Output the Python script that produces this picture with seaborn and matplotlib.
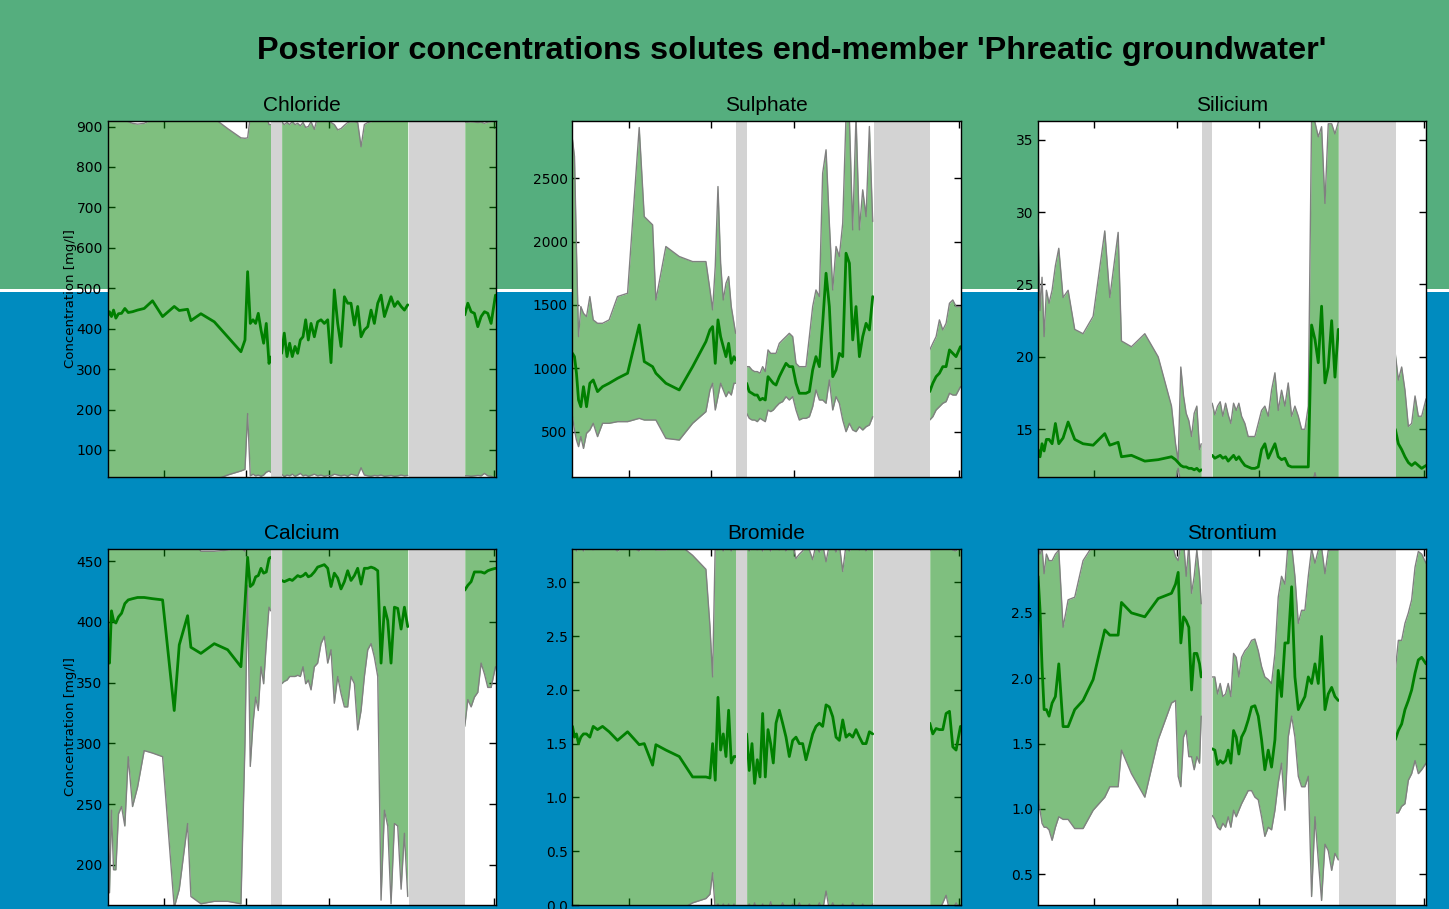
import matplotlib
matplotlib.use("Agg")
import matplotlib.pyplot as plt
from matplotlib.patches import Rectangle
from matplotlib.ticker import MultipleLocator
import pandas as pd
import seaborn as sns

## sampling times (decimal years), three measuring periods
t_a = [2009.320, 2009.344, 2009.368, 2009.393, 2009.421, 2009.453, 2009.490, 2009.530,
       2009.571, 2009.623, 2009.684, 2009.764, 2009.865, 2009.987, 2010.128, 2010.189,
       2010.290, 2010.330, 2010.451, 2010.613, 2010.775, 2010.936, 2010.985, 2011.017,
       2011.049, 2011.082, 2011.114, 2011.146, 2011.179, 2011.211, 2011.243, 2011.276,
       2011.296]
t_b = [2011.429, 2011.461, 2011.494, 2011.526, 2011.558, 2011.591, 2011.623, 2011.655,
       2011.688, 2011.720, 2011.752, 2011.785, 2011.825, 2011.865, 2011.906, 2011.946,
       2011.987, 2012.027, 2012.067, 2012.108, 2012.148, 2012.189, 2012.229, 2012.269,
       2012.310, 2012.350, 2012.391, 2012.431, 2012.472, 2012.512, 2012.552, 2012.593,
       2012.633, 2012.674, 2012.714, 2012.754, 2012.795, 2012.835, 2012.876, 2012.916,
       2012.956]
t_c = [2013.647, 2013.684, 2013.724, 2013.764, 2013.805, 2013.845, 2013.886, 2013.926,
       2013.966, 2014.019]

## periods without data
gaps = [(2011.30, 2011.43), (2012.97, 2013.65)]

# Chloride
cl_mean = [430, 442, 430, 446, 426, 437, 438, 450, 440, 442, 446, 450, 469, 430, 455, 445,
           448, 420, 437, 417, 380, 343, 372, 541, 413, 422, 413, 438, 397, 364, 413, 314, 330,
           339, 389, 331, 364, 331, 356, 339, 372, 380, 422, 372, 413, 380, 417, 422, 413,
           422, 316, 496, 413, 356, 479, 463, 463, 409, 455, 380, 397, 405, 446, 413, 463,
           483, 430, 455, 479, 455, 467, 455, 446, 459,
           434, 463, 442, 438, 405, 430, 442, 438, 413, 483]
cl_lo = [25, 25, 25, 25, 25, 25, 25, 25, 25, 25, 25, 25, 25, 25, 25, 25,
         25, 25, 25, 25, 38, 48, 52, 190, 36, 40, 36, 38, 35, 38, 45, 48, 45,
         40, 34, 38, 36, 40, 35, 38, 42, 36, 38, 35, 37, 40, 36, 38, 35,
         37, 36, 40, 38, 36, 38, 35, 40, 38, 36, 56, 38, 36, 35, 37, 36,
         38, 35, 36, 37, 35, 36, 38, 36, 37,
         36, 36, 35, 36, 37, 36, 42, 36, 35, 30]
cl_hi = [925, 925, 925, 925, 925, 925, 925, 925, 912, 908, 906, 908, 918, 920, 925, 925,
         925, 925, 925, 920, 895, 872, 871, 872, 925, 925, 925, 925, 925, 925, 925, 905, 905,
         912, 905, 910, 905, 912, 905, 908, 902, 910, 898, 900, 912, 893, 925, 925, 925,
         925, 910, 905, 892, 895, 903, 910, 912, 912, 910, 850, 905, 910, 912, 925, 925,
         925, 925, 925, 925, 925, 925, 925, 925, 925,
         911, 911, 912, 911, 910, 911, 908, 911, 912, 925]

# Sulphate
so_mean = [1118, 1092, 961, 750, 697, 855, 697, 882, 908, 816, 855, 882, 921, 961, 1342, 1053,
           1013, 961, 882, 829, 1013, 1211, 1303, 1329, 1039, 1382, 1250, 1171, 1092, 1197, 1039, 1092, 1066,
           882, 816, 803, 789, 789, 750, 763, 750, 934, 908, 882, 868, 934, 987, 1039, 1013,
           1013, 882, 803, 803, 803, 816, 987, 1092, 1013, 1355, 1750, 1487, 934, 987, 1118, 1092,
           1908, 1829, 1224, 1487, 1092, 1250, 1355, 1303, 1566,
           816, 882, 934, 961, 1013, 1013, 1145, 1118, 1092, 1171]
so_lo = [618, 513, 434, 382, 461, 368, 487, 513, 566, 461, 566, 566, 579, 579, 605, 592,
         592, 592, 447, 434, 566, 658, 829, 882, 671, 776, 882, 829, 776, 816, 789, 882, 882,
         645, 605, 592, 592, 579, 605, 592, 579, 671, 658, 671, 697, 724, 737, 776, 750,
         776, 671, 592, 605, 605, 618, 697, 829, 750, 750, 724, 908, 671, 776, 724, 592,
         500, 566, 513, 500, 539, 513, 539, 553, 618,
         592, 618, 671, 697, 724, 737, 803, 789, 789, 855]
so_hi = [2803, 2671, 1934, 1250, 1487, 1434, 1408, 1566, 1382, 1355, 1355, 1382, 1566, 1592, 2900, 2197,
         2132, 1539, 1961, 1882, 1842, 1842, 1618, 1461, 1803, 2434, 1829, 1539, 1671, 1724, 1487, 1355, 1276,
         1013, 1013, 987, 974, 974, 961, 1013, 974, 1145, 1118, 1118, 1118, 1197, 1224, 1250, 1276,
         1250, 1039, 1013, 1013, 1013, 1250, 1487, 1618, 1566, 2539, 2724, 2145, 1618, 1961, 1882, 2145,
         2990, 2960, 2092, 2990, 2092, 2408, 2197, 2908, 2158,
         1145, 1197, 1250, 1382, 1303, 1355, 1513, 1539, 1487, 1487]

# Silicium
si_mean = [13.6, 13.1, 14.0, 13.5, 14.3, 14.3, 14.0, 15.4, 14.0, 14.4, 15.5, 14.3, 14.0, 13.9, 14.7, 13.9,
           14.1, 13.1, 13.2, 12.8, 12.9, 13.1, 12.9, 12.7, 12.5, 12.4, 12.4, 12.3, 12.3, 12.2, 12.3, 12.1, 12.2,
           13.2, 13.0, 13.1, 13.2, 13.0, 13.1, 12.8, 13.0, 13.2, 12.9, 13.1, 12.8, 12.5, 12.4, 12.3, 12.3,
           12.4, 13.6, 14.0, 13.0, 13.5, 14.0, 13.1, 12.9, 13.0, 12.5, 12.4, 12.4, 12.4, 12.4, 12.4, 12.4,
           22.2, 21.2, 19.6, 23.5, 18.2, 19.3, 22.5, 18.6, 21.9,
           15.0, 14.0, 13.6, 13.1, 12.7, 12.5, 12.7, 12.5, 12.3, 12.5]
si_lo = [11.0, 11.0, 11.0, 11.0, 11.0, 11.0, 11.0, 11.0, 11.0, 11.0, 11.0, 11.0, 11.0, 11.0, 11.0, 11.0,
         11.0, 11.0, 11.0, 11.0, 11.0, 11.0, 11.5, 12.3, 11.3, 11.0, 11.0, 11.0, 11.0, 11.0, 11.0, 11.0, 11.0,
         11.0, 11.0, 11.0, 11.0, 11.0, 11.0, 11.0, 11.0, 11.0, 11.0, 11.0, 11.0, 11.0, 11.0, 11.0, 11.0,
         11.0, 11.0, 11.0, 11.0, 11.0, 11.0, 11.0, 11.0, 11.0, 11.0, 11.0, 11.0, 11.0, 11.0, 11.0, 11.0,
         11.0, 12.0, 11.0, 11.0, 11.0, 11.0, 11.0, 11.0, 11.0,
         11.0, 11.0, 11.0, 11.0, 11.0, 11.0, 11.0, 11.0, 11.0, 11.0]
si_hi = [29.0, 23.2, 25.5, 21.4, 24.6, 23.7, 24.6, 26.3, 27.5, 24.1, 24.6, 21.9, 21.6, 22.8, 28.7, 24.1,
         28.6, 21.1, 20.7, 21.6, 20.0, 16.6, 14.0, 12.8, 19.3, 17.3, 16.1, 15.6, 14.5, 16.1, 16.6, 13.6, 14.0,
         16.8, 16.0, 16.6, 16.9, 15.9, 16.8, 16.0, 15.4, 16.8, 16.3, 16.8, 15.9, 15.4, 14.5, 14.5, 14.5,
         15.4, 16.3, 16.6, 15.9, 17.7, 18.9, 16.3, 17.7, 16.6, 18.2, 15.9, 16.6, 15.9, 15.0, 15.0, 16.6,
         36.5, 36.2, 35.2, 35.9, 30.6, 36.1, 36.1, 35.4, 36.2,
         20.2, 18.4, 19.3, 17.7, 15.2, 15.4, 17.3, 15.9, 15.9, 17.1]

# Calcium
ca_mean = [379, 366, 409, 401, 399, 404, 407, 415, 418, 419, 420, 420, 419, 418, 327, 381,
           405, 379, 374, 382, 377, 363, 415, 453, 429, 431, 437, 438, 444, 440, 441, 452, 453,
           434, 433, 434, 435, 434, 436, 438, 437, 438, 440, 437, 438, 441, 445, 446, 447,
           444, 429, 440, 436, 427, 433, 442, 434, 438, 444, 431, 444, 444, 445, 444, 442,
           366, 412, 401, 366, 412, 411, 394, 412, 396,
           426, 430, 433, 441, 441, 441, 440, 442, 443, 444]
ca_lo = [292, 177, 245, 196, 196, 242, 248, 232, 289, 248, 264, 294, 292, 289, 165, 180,
         234, 174, 168, 170, 170, 168, 300, 430, 281, 316, 338, 327, 363, 349, 382, 412, 409,
         349, 351, 352, 355, 355, 355, 356, 355, 363, 349, 352, 344, 363, 366, 382, 388,
         366, 377, 333, 355, 341, 330, 330, 355, 349, 311, 327, 355, 377, 382, 371, 355,
         171, 245, 232, 168, 234, 232, 180, 226, 174,
         314, 336, 330, 338, 342, 366, 357, 346, 346, 363]
ca_hi = [470, 470, 470, 470, 470, 470, 470, 470, 470, 470, 470, 470, 470, 470, 470, 470,
         470, 470, 458, 458, 459, 461, 458, 470, 470, 470, 470, 470, 470, 470, 470, 470, 470,
         470, 470, 470, 470, 470, 470, 470, 470, 470, 470, 470, 470, 470, 470, 470, 470,
         470, 470, 470, 470, 470, 470, 470, 470, 470, 470, 470, 470, 470, 470, 470, 470,
         470, 470, 470, 470, 470, 470, 470, 470, 470,
         470, 470, 470, 470, 470, 470, 470, 470, 470, 470]

# Bromide
br_mean = [1.66, 1.56, 1.59, 1.50, 1.56, 1.59, 1.59, 1.56, 1.66, 1.63, 1.66, 1.61, 1.53, 1.61, 1.49, 1.50,
           1.30, 1.49, 1.44, 1.38, 1.19, 1.19, 1.18, 1.50, 1.16, 1.93, 1.44, 1.59, 1.38, 1.81, 1.32, 1.38, 1.38,
           1.59, 1.25, 1.50, 1.13, 1.35, 1.19, 1.78, 1.19, 1.63, 1.50, 1.32, 1.69, 1.81, 1.69, 1.56, 1.38,
           1.53, 1.56, 1.50, 1.50, 1.35, 1.47, 1.59, 1.66, 1.69, 1.66, 1.86, 1.84, 1.75, 1.56, 1.53, 1.72,
           1.56, 1.59, 1.56, 1.63, 1.56, 1.50, 1.50, 1.61, 1.59,
           1.69, 1.59, 1.64, 1.63, 1.63, 1.78, 1.80, 1.47, 1.44, 1.66]
br_lo = [-0.05, -0.05, -0.05, -0.05, -0.05, -0.05, -0.05, -0.05, -0.05, -0.05, -0.05, -0.05, -0.05, -0.05, -0.05, -0.05,
         -0.05, -0.05, -0.05, -0.05, 0.02, 0.06, 0.10, 0.30, -0.05, 0.01, -0.05, 0.01, -0.05, 0.01, -0.05, 0.01, -0.05,
         -0.05, 0.01, -0.05, 0.02, -0.05, -0.05, 0.01, -0.05, -0.05, 0.03, -0.05, -0.05, -0.05, 0.02, -0.05, -0.05,
         0.01, -0.05, 0.02, -0.05, -0.05, 0.01, -0.05, -0.05, 0.02, -0.05, 0.13, -0.05, 0.02, -0.05, -0.05, 0.01,
         -0.05, -0.05, 0.02, -0.05, -0.05, 0.01, -0.05, -0.05, 0.01,
         -0.05, -0.05, -0.05, -0.05, 0.02, 0.09, -0.05, -0.05, 0.02, -0.05]
br_hi = [3.35, 3.35, 3.29, 3.35, 3.35, 3.29, 3.35, 3.35, 3.30, 3.35, 3.35, 3.35, 3.29, 3.35, 3.29, 3.35,
         3.35, 3.30, 3.30, 3.35, 3.25, 3.12, 2.59, 2.12, 3.35, 3.30, 3.35, 3.29, 3.35, 3.35, 3.29, 3.35, 3.35,
         3.35, 3.29, 3.35, 3.35, 3.30, 3.35, 3.29, 3.35, 3.35, 3.29, 3.35, 3.35, 3.30, 3.35, 3.29, 3.35,
         3.35, 3.22, 3.26, 3.29, 3.35, 3.30, 3.21, 3.35, 3.28, 3.35, 3.19, 3.35, 3.35, 3.28, 3.35, 3.10,
         3.35, 3.29, 3.35, 3.35, 3.30, 3.35, 3.29, 3.35, 3.35,
         3.29, 3.35, 3.35, 3.35, 3.35, 3.35, 3.35, 3.30, 3.29, 3.35]

# Strontium
sr_mean = [2.78, 2.52, 2.09, 1.76, 1.76, 1.71, 1.81, 1.86, 2.11, 1.63, 1.63, 1.76, 1.83, 1.99, 2.37, 2.33,
           2.33, 2.58, 2.50, 2.47, 2.61, 2.65, 2.72, 2.81, 2.27, 2.47, 2.44, 2.39, 1.91, 2.19, 2.19, 2.11, 2.01,
           1.46, 1.45, 1.34, 1.37, 1.35, 1.37, 1.45, 1.35, 1.60, 1.55, 1.42, 1.55, 1.60, 1.68, 1.78, 1.79,
           1.71, 1.53, 1.30, 1.45, 1.32, 1.53, 2.06, 1.86, 2.27, 2.27, 2.70, 2.01, 1.76, 1.81, 1.86, 2.01,
           1.96, 2.11, 1.96, 2.32, 1.76, 1.88, 1.93, 1.86, 1.83,
           1.53, 1.60, 1.65, 1.76, 1.83, 1.91, 2.04, 2.14, 2.16, 2.11]
sr_lo = [1.09, 0.99, 0.89, 0.86, 0.86, 0.84, 0.76, 0.86, 0.94, 0.92, 0.92, 0.85, 0.85, 0.99, 1.09, 1.17,
         1.17, 1.45, 1.27, 1.09, 1.53, 1.81, 1.83, 1.25, 1.17, 1.55, 1.60, 1.40, 1.40, 1.30, 1.40, 1.35, 1.71,
         0.95, 0.92, 0.86, 0.84, 0.89, 0.86, 0.94, 0.86, 0.99, 0.94, 0.99, 1.04, 1.09, 1.14, 1.14, 1.09,
         1.07, 0.94, 0.79, 0.86, 0.84, 0.99, 1.20, 1.35, 0.99, 1.55, 1.71, 1.55, 1.25, 1.17, 1.17, 1.25,
         0.33, 0.94, 0.61, 0.30, 0.73, 0.68, 0.53, 0.66, 0.61,
         0.97, 0.97, 1.02, 1.04, 1.22, 1.27, 1.37, 1.27, 1.30, 1.35]
sr_hi = [3.00, 2.95, 3.00, 2.80, 2.95, 2.90, 2.90, 2.95, 2.98, 2.39, 2.60, 2.62, 2.90, 3.02, 3.05, 3.05,
         3.05, 3.05, 3.05, 3.05, 3.05, 3.05, 2.93, 2.90, 3.02, 3.05, 2.78, 3.02, 2.65, 2.78, 2.98, 2.78, 2.57,
         2.01, 2.01, 1.88, 1.96, 1.86, 1.88, 1.96, 1.86, 2.19, 2.16, 2.01, 2.16, 2.21, 2.24, 2.29, 2.30,
         2.21, 2.09, 2.01, 1.99, 1.96, 2.19, 2.62, 2.78, 2.72, 3.05, 3.02, 2.78, 2.42, 2.52, 2.52, 2.78,
         2.99, 2.88, 2.98, 3.00, 2.80, 2.98, 2.98, 2.98, 2.98,
         2.06, 2.29, 2.29, 2.42, 2.50, 2.60, 2.85, 2.97, 2.95, 2.88]

titles = ["Chloride", "Sulphate", "Silicium", "Calcium", "Bromide", "Strontium"]
series = [(cl_mean, cl_lo, cl_hi), (so_mean, so_lo, so_hi), (si_mean, si_lo, si_hi),
          (ca_mean, ca_lo, ca_hi), (br_mean, br_lo, br_hi), (sr_mean, sr_lo, sr_hi)]
ylims = [(33, 914), (142, 2952), (11.7, 36.3), (167, 460), (0, 3.31), (0.265, 2.99)]
ysteps = [100, 500, 5, 50, 0.5, 0.5]

t = t_a + t_b + t_c
seg = ["a"] * len(t_a) + ["b"] * len(t_b) + ["c"] * len(t_c)

sns.set_style("ticks", {"xtick.direction": "in", "ytick.direction": "in"})
plt.rcParams["font.family"] = ["DejaVu Sans"]
plt.rcParams["text.color"] = "black"
plt.rcParams["axes.labelcolor"] = "black"

fig = plt.figure(figsize=(14.49, 9.09), dpi=100)
fig.patch.set_facecolor("#008bbf")
fig.add_artist(Rectangle((0, 0.682), 1, 0.318, transform=fig.transFigure,
                         facecolor="#55ae7e", edgecolor="none", zorder=-10))
fig.add_artist(Rectangle((0, 0.6788), 1, 0.0033, transform=fig.transFigure,
                         facecolor="white", edgecolor="none", zorder=-10))

lefts = [0.0742, 0.3951, 0.7164]
bottoms = [0.4752, 0.0044]
w, h = 0.2678, 0.3918

for i, (name, (m, lo, hi)) in enumerate(zip(titles, series)):
    ax = fig.add_axes([lefts[i % 3], bottoms[i // 3], w, h])
    ax.set_facecolor("white")
    df = pd.DataFrame({"t": t, "seg": seg, "mean": m, "lo": lo, "hi": hi})

    # credible band per measuring period
    for s, d in df.groupby("seg"):
        ax.fill_between(d["t"], d["lo"], d["hi"], color="green", alpha=0.5, lw=0)
    sns.lineplot(data=df, x="t", y="lo", units="seg", estimator=None, color="grey", lw=1, ax=ax)
    sns.lineplot(data=df, x="t", y="hi", units="seg", estimator=None, color="grey", lw=1, ax=ax)
    sns.lineplot(data=df, x="t", y="mean", units="seg", estimator=None, color="green", lw=2, ax=ax)

    for g0, g1 in gaps:
        ax.axvspan(g0, g1, color="lightgrey", lw=0, zorder=2.3)

    ax.set_xlim(2009.32, 2014.02)
    ax.set_ylim(*ylims[i])
    ax.xaxis.set_major_locator(MultipleLocator(1))
    ax.yaxis.set_major_locator(MultipleLocator(ysteps[i]))
    ax.tick_params(which="both", direction="in", top=True, right=True, length=5, width=1,
                   labelbottom=False, labelsize=10, colors="black")
    for sp in ax.spines.values():
        sp.set_visible(True)
        sp.set_color("black")
        sp.set_linewidth(1)
        sp.set_zorder(4)
    ax.set_xlabel("")
    ax.set_ylabel("")
    ax.set_title(name, fontsize=15, color="black", family=["Liberation Sans", "DejaVu Sans"], pad=7)
    if i % 3 == 0:
        ax.set_ylabel("Concentration [mg/l]", fontsize=9.5, color="black")
        ax.yaxis.set_label_coords(-0.078, 0.5)

fig.text(0.5462, 1 - 51 / 909, "Posterior concentrations solutes end-member 'Phreatic groundwater'",
         ha="center", va="center", fontsize=23.4, fontweight="bold", color="black",
         family=["Liberation Sans", "DejaVu Sans"])

fig.savefig("out.png", dpi=100, facecolor=fig.get_facecolor())
